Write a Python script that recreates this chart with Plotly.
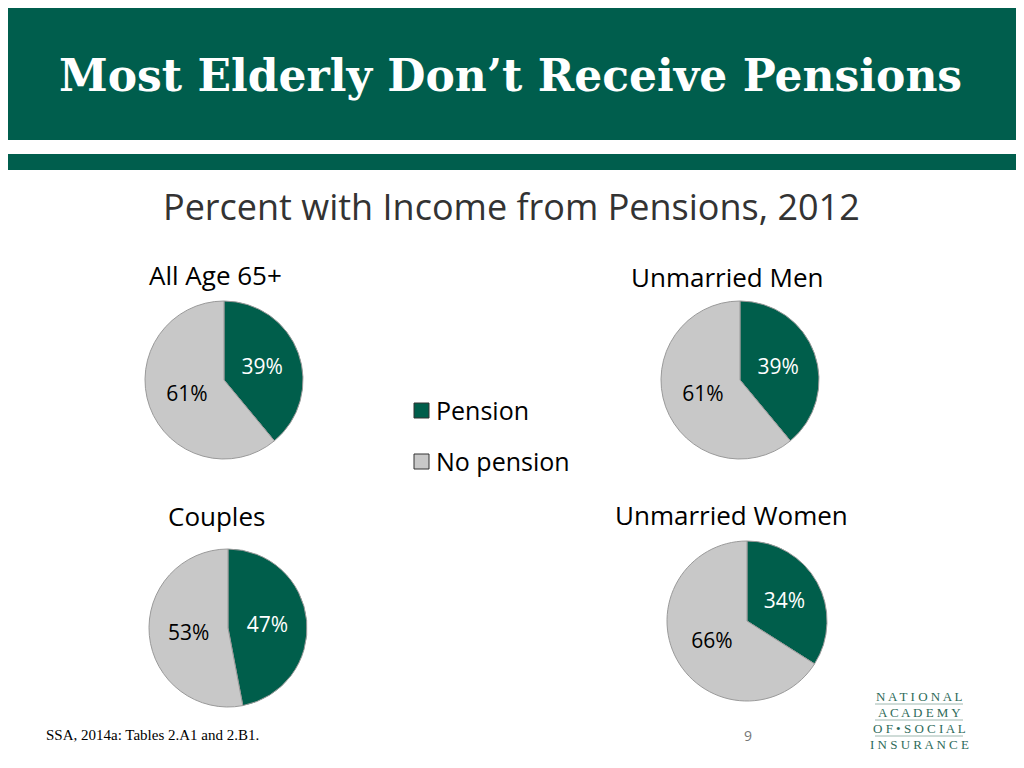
import plotly.graph_objects as go

groups = ["All Age 65+", "Unmarried Men", "Couples", "Unmarried Women"]
labels = ["Pension", "No pension"]
pension = [39, 39, 47, 34]
no_pension = [61, 61, 53, 66]
colors = ["#005E4B", "#C8C8C8"]

W, H = 1024, 768
OFF = 8  # page body margin


def px(x):
    return (x - OFF) / W


def py(y):
    return 1 - (y - OFF) / H


centers = [(224, 380, 79), (740, 380, 79), (228, 628, 79), (747, 621, 80)]
title_pos = [(215, 275), (727, 277), (216, 516), (731, 515)]

fig = go.Figure()
for i, g in enumerate(groups):
    cx, cy, r = centers[i]
    fig.add_trace(go.Pie(
        labels=labels, values=[pension[i], no_pension[i]], sort=False,
        direction="clockwise", rotation=0,
        marker=dict(colors=colors, line=dict(color="#9a9a9a", width=1)),
        texttemplate="%{value}%", textposition="inside",
        textfont=dict(color=["white", "black"], size=21, family="Open Sans"),
        insidetextorientation="horizontal",
        domain=dict(x=[px(cx - r), px(cx + r)], y=[py(cy + r), py(cy - r)]),
        showlegend=False, hoverinfo="label+percent",
    ))
    tx, ty = title_pos[i]
    fig.add_annotation(x=px(tx), y=py(ty), xref="paper", yref="paper", xanchor="center", yanchor="middle",
                       text=g, showarrow=False, font=dict(size=26, color="black", family="Open Sans"))

shapes = [
    dict(type="rect", xref="paper", yref="paper", x0=0, x1=1, y0=py(140), y1=py(8),
         fillcolor="#005E4D", line=dict(width=0), layer="below"),
    dict(type="rect", xref="paper", yref="paper", x0=0, x1=1, y0=py(170), y1=py(154),
         fillcolor="#005E4D", line=dict(width=0), layer="below"),
]
for k, (lab, col, yy) in enumerate(zip(labels, colors, [410, 461])):
    shapes.append(dict(type="rect", xref="paper", yref="paper", x0=px(414), x1=px(429),
                       y0=py(yy + 8), y1=py(yy - 7), fillcolor=col, line=dict(color="#333", width=1)))
    fig.add_annotation(x=px(434), y=py(yy), xref="paper", yref="paper", xanchor="left", yanchor="middle",
                       text=lab, showarrow=False, font=dict(size=25, color="black", family="Open Sans"))

fig.add_annotation(x=px(510), y=py(76), xref="paper", yref="paper", xanchor="center", yanchor="middle",
                   text="<b>Most Elderly Don’t Receive Pensions</b>", showarrow=False,
                   font=dict(size=44, color="white", family="DejaVu Serif"))
fig.add_annotation(x=px(511), y=py(206), xref="paper", yref="paper", xanchor="center", yanchor="middle",
                   text="Percent with Income from Pensions, 2012", showarrow=False,
                   font=dict(size=36, color="#333333", family="Open Sans"))
fig.add_annotation(x=px(44), y=py(735), xref="paper", yref="paper", xanchor="left", yanchor="middle",
                   text="SSA, 2014a: Tables 2.A1 and 2.B1.", showarrow=False,
                   font=dict(size=15, color="black", family="Liberation Serif"))
fig.add_annotation(x=px(748), y=py(735), xref="paper", yref="paper", xanchor="center", yanchor="middle",
                   text="9", showarrow=False, font=dict(size=14, color="#777777", family="Open Sans"))
logo = ["N A T I O N A L", "A C A D E M Y", "O F • S O C I A L", "I N S U R A N C E"]
for j, line in enumerate(logo):
    yy = 696 + j * 16
    fig.add_annotation(x=px(919), y=py(yy), xref="paper", yref="paper", xanchor="center", yanchor="middle",
                       text=line, showarrow=False,
                       font=dict(size=13, color="#2E6B5A", family="Liberation Serif"))
    if j < 3:
        shapes.append(dict(type="line", xref="paper", yref="paper", x0=px(875), x1=px(963),
                           y0=py(yy + 8), y1=py(yy + 8), line=dict(color="#9fb8b0", width=1)))

fig.update_layout(
    width=W, height=H, margin=dict(l=0, r=0, t=0, b=0),
    paper_bgcolor="white", plot_bgcolor="white", shapes=shapes, showlegend=False,
)
fig.write_html("out.html")
